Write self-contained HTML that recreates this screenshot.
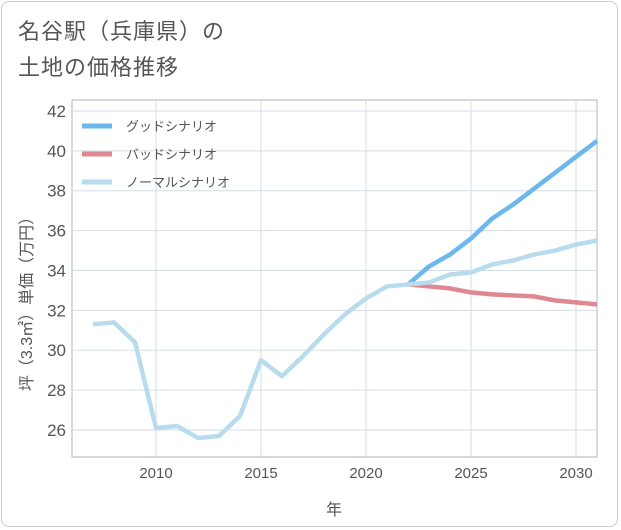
<!DOCTYPE html>
<html><head><meta charset="utf-8"><style>
body{margin:0;background:#fff;font-family:"Liberation Sans","Noto Sans CJK JP",sans-serif;}
#wrap{position:relative;width:621px;height:530px;}
.card{position:absolute;left:1px;top:1px;width:617px;height:526px;border:1px solid #ccc;border-radius:8px;box-sizing:border-box;}
.title{position:absolute;left:18px;top:14px;font-size:22px;color:#555;line-height:36px;letter-spacing:1px;}
</style></head><body>
<div id="wrap">
<div class="card"></div>
<div class="title">名谷駅（兵庫県）の<br>土地の価格推移</div>
<svg id="svg" width="621" height="530" style="position:absolute;left:0;top:0"></svg>
</div>
<script>
const years=[2007,2008,2009,2010,2011,2012,2013,2014,2015,2016,2017,2018,2019,2020,2021,2022,2023,2024,2025,2026,2027,2028,2029,2030,2031];
const normalVals=[31.3,31.4,30.4,26.1,26.2,25.6,25.7,26.7,29.5,28.7,29.7,30.8,31.8,32.6,33.2,33.3,33.4,33.8,33.9,34.3,34.5,34.8,35.0,35.3,35.5];
const futureYears=[2022,2023,2024,2025,2026,2027,2028,2029,2030,2031];
const goodVals=[33.3,34.2,34.8,35.6,36.6,37.3,38.1,38.9,39.7,40.5];
const badVals=[33.3,33.2,33.1,32.9,32.8,32.75,32.7,32.5,32.4,32.3];
const xTicks=[2010,2015,2020,2025,2030];
const yTicks=[26,28,30,32,34,36,38,40,42];
const legendLabels=["グッドシナリオ","バッドシナリオ","ノーマルシナリオ"];
const L=72,R=597,T=100,B=457;
const x=v=>156+(v-2010)*21;
const y=v=>430-(v-26)*19.94;
const svg=document.getElementById('svg');const NS='http://www.w3.org/2000/svg';
function mk(t,a,p){const e=document.createElementNS(NS,t);for(const k in a)e.setAttribute(k,a[k]);(p||svg).appendChild(e);return e;}
let e=mk('rect',{x:L,y:T,width:R-L,height:B-T,fill:'#fff',stroke:'#aab4c0'});


xTicks.forEach(v=>{let g=mk('line',{x1:x(v),x2:x(v),y1:T,y2:B,stroke:'#d5dde6'});


let t=mk('text',{x:x(v),y:478,'text-anchor':'middle','font-size':15,fill:'#555'});t.textContent=v;

});
yTicks.forEach(v=>{let g=mk('line',{x1:L,x2:R,y1:y(v),y2:y(v),stroke:'#d5dde6'});


let t=mk('text',{x:66,y:y(v)+6,'text-anchor':'end','font-size':17,fill:'#555'});t.textContent=v;

});
function line(xs,vs,c,n){let p=mk('polyline',{points:xs.map((yr,i)=>x(yr)+','+y(vs[i])).join(' '),fill:'none',stroke:c,'stroke-width':4.5,'stroke-linejoin':'round'});

}
line(futureYears,goodVals,'#6ab8ee','good-scenario-line');
line(futureYears,badVals,'#e0888f','bad-scenario-line');
line(years,normalVals,'#b8dcee','normal-scenario-line');
const lc=['#6ab8ee','#e0888f','#b8dcee'];
legendLabels.forEach((s,i)=>{const yy=126+i*28;
let g=mk('line',{x1:82,x2:112,y1:yy,y2:yy,stroke:lc[i],'stroke-width':5});


let t=mk('text',{x:126,y:yy+5,'font-size':13,fill:'#555'});t.textContent=s;

});
let xt=mk('text',{x:334,y:515,'text-anchor':'middle','font-size':16,fill:'#555'});xt.textContent='年';


let yt=mk('text',{x:0,y:0,'text-anchor':'middle','font-size':16,fill:'#555',transform:'translate(32,300) rotate(-90)'});yt.textContent='坪（3.3㎡）単価（万円）';


</script>
</body></html>
